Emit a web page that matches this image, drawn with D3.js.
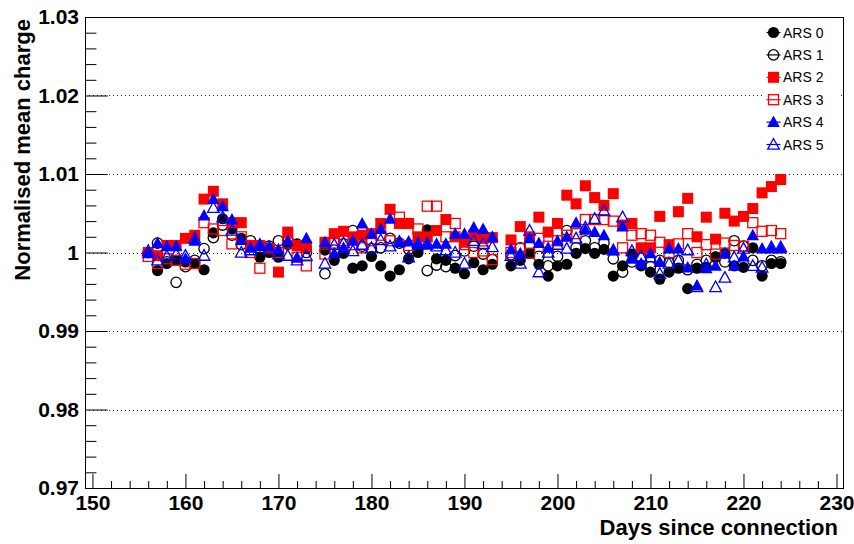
<!DOCTYPE html>
<html>
<head>
<meta charset="utf-8">
<script src="https://cdn.jsdelivr.net/npm/d3@7"></script>
<style>
  html, body { margin: 0; padding: 0; background: #fff; }
  svg { display: block; font-family: "Liberation Sans", Arial, Helvetica, sans-serif; }
</style>
</head>
<body>
<div id="chart"></div>
<script>
// Days with a measurement (no runs on day 174 and 194)
const days = [156,157,158,159,160,161,162,163,164,165,166,167,168,169,170,171,172,173,
  175,176,177,178,179,180,181,182,183,184,185,186,187,188,189,190,191,192,193,
  195,196,197,198,199,200,201,202,203,204,205,206,207,208,209,210,211,212,213,214,215,216,217,218,219,220,221,222,223,224];

const ars0 = [1.0000,0.9977,0.9986,0.9990,0.9988,0.9986,0.9978,1.0025,1.0043,1.0030,1.0018,1.0008,0.9994,1.0000,0.9994,1.0010,1.0011,1.0005,
  1.0003,0.9990,0.9999,0.9980,0.9983,0.9995,0.9983,0.9970,0.9978,0.9992,1.0000,1.0029,0.9992,0.9990,0.9980,0.9973,0.9987,0.9978,0.9985,
  0.9983,0.9990,0.9999,0.9985,0.9970,0.9983,0.9985,0.9999,1.0005,0.9999,1.0004,0.9970,0.9983,0.9998,0.9983,0.9975,0.9966,0.9975,0.9980,0.9954,0.9980,0.9981,0.9994,0.9999,0.9983,0.9981,1.0006,0.9970,0.9986,0.9986];

const ars1 = [1.0000,1.0012,0.9988,0.9962,0.9982,0.9990,1.0005,1.0019,1.0035,1.0022,1.0010,1.0015,1.0005,1.0008,1.0015,1.0016,1.0010,1.0000,
  0.9973,1.0003,1.0011,1.0028,1.0008,1.0005,1.0006,1.0018,1.0012,1.0004,1.0005,0.9977,0.9984,0.9982,0.9996,1.0002,1.0008,0.9998,0.9991,
  0.9997,1.0006,1.0008,0.9995,0.9983,0.9995,1.0028,1.0006,1.0015,1.0006,1.0012,0.9992,0.9975,0.9988,0.9993,0.9982,0.9990,0.9987,0.9990,0.9978,0.9985,0.9990,0.9994,0.9988,1.0015,1.0008,0.9990,0.9983,0.9990,0.9988];

const ars2 = [1.0000,0.9996,1.0009,1.0009,1.0018,1.0022,1.0068,1.0078,1.0062,1.0038,1.0038,1.0009,1.0009,1.0005,0.9975,1.0026,1.0009,1.0007,
  1.0013,1.0024,1.0027,1.0020,1.0022,1.0024,1.0037,1.0055,1.0037,1.0037,1.0020,1.0020,1.0028,1.0042,1.0020,1.0013,1.0022,1.0018,1.0019,
  1.0016,1.0033,1.0020,1.0045,1.0026,1.0037,1.0073,1.0062,1.0085,1.0070,1.0060,1.0075,1.0035,1.0037,1.0006,1.0006,1.0046,1.0010,1.0052,1.0069,1.0020,1.0045,1.0017,1.0050,1.0040,1.0046,1.0056,1.0076,1.0084,1.0093];

const ars3 = [0.9995,0.9986,0.9992,0.9990,0.9985,0.9986,1.0038,1.0030,1.0028,1.0011,1.0020,1.0000,0.9980,1.0005,1.0000,1.0012,0.9994,0.9983,
  0.9998,1.0012,1.0015,1.0010,1.0006,1.0015,1.0022,1.0015,1.0045,1.0009,1.0030,1.0059,1.0059,1.0020,1.0037,1.0010,1.0000,1.0002,0.9991,
  1.0000,1.0005,0.9999,1.0018,1.0008,1.0015,1.0022,1.0024,1.0042,1.0042,1.0042,1.0040,1.0006,1.0022,1.0024,1.0022,1.0013,1.0000,1.0011,1.0024,1.0000,1.0010,0.9998,1.0012,1.0009,1.0008,1.0038,1.0027,1.0028,1.0024];

const ars4 = [0.9999,1.0012,1.0008,1.0008,0.9992,1.0015,1.0047,1.0068,1.0059,1.0042,1.0016,1.0006,1.0008,1.0008,1.0004,1.0015,0.9994,1.0018,
  1.0013,0.9999,1.0006,1.0015,1.0037,1.0024,1.0030,1.0043,1.0013,1.0014,1.0010,1.0010,1.0011,1.0011,1.0024,1.0024,1.0032,1.0030,1.0020,
  1.0004,0.9999,1.0018,1.0012,1.0006,1.0015,1.0020,1.0038,1.0029,1.0026,1.0022,1.0003,1.0033,0.9992,0.9986,0.9999,0.9988,1.0005,1.0005,0.9981,0.9958,0.9980,0.9983,0.9999,0.9983,0.9995,1.0022,1.0005,1.0005,1.0005];

const ars5 = [1.0002,0.9990,0.9995,0.9998,0.9996,1.0018,0.9996,1.0057,1.0045,1.0028,1.0000,1.0003,1.0010,1.0005,0.9998,0.9996,0.9990,0.9996,
  0.9986,1.0010,1.0012,1.0002,1.0010,1.0006,1.0016,1.0008,1.0014,0.9994,1.0012,1.0012,1.0008,1.0003,1.0000,0.9986,1.0015,1.0011,1.0007,
  0.9996,0.9986,1.0028,0.9975,1.0000,1.0010,1.0005,1.0018,1.0032,1.0043,1.0053,1.0003,1.0045,1.0002,0.9995,0.9994,0.9973,0.9986,0.9990,1.0003,0.9956,0.9985,0.9956,0.9968,0.9994,1.0005,0.9983,0.9981,1.0007,1.0007];

const seriesNames = ['ARS 0', 'ARS 1', 'ARS 2', 'ARS 3', 'ARS 4', 'ARS 5'];
const seriesValues = [ars0, ars1, ars2, ars3, ars4, ars5];

const xMajorTicks = [150, 160, 170, 180, 190, 200, 210, 220, 230];
const yMajorTicks = [0.97, 0.98, 0.99, 1.00, 1.01, 1.02, 1.03];
const yGridTicks = [0.98, 0.99, 1.00, 1.01, 1.02];

// marker style per series (ROOT markers 20, 24, 21, 25, 22, 26)
const markerStyles = [
    { shape: 'circle', color: '#000000', filled: true },
    { shape: 'circle', color: '#000000', filled: false },
    { shape: 'square', color: '#ff0000', filled: true },
    { shape: 'square', color: '#ff0000', filled: false },
    { shape: 'triangle', color: '#0000ff', filled: true },
    { shape: 'triangle', color: '#0000ff', filled: false }
];

const width = 854;
const height = 544;
const frame = { left: 85, right: 843, top: 17, bottom: 488 };

const svg = d3.select('#chart')
    .append('svg')
    .attr('width', width)
    .attr('height', height)
    .style('background', '#fff');

const x = d3.scaleLinear().domain([149.2, 230.7]).range([frame.left, frame.right]);
const y = d3.scaleLinear().domain([0.97, 1.03]).range([frame.bottom, frame.top]);

// dotted horizontal grid
svg.append('g')
    .attr('class', 'grid')
    .selectAll('line')
    .data(yGridTicks)
    .enter()
    .append('line')
    .attr('x1', frame.left)
    .attr('x2', frame.right)
    .attr('y1', d => Math.round(y(d)) + 0.5)
    .attr('y2', d => Math.round(y(d)) + 0.5)
    .attr('stroke', '#222')
    .attr('stroke-width', 1)
    .attr('stroke-dasharray', '1,3');

// axes (ticks point inward like ROOT)
const fontLabel = '21px';
const xMinor = d3.range(150, 231, 2).filter(d => d % 10 !== 0);
const yMinor = d3.range(0, 31).map(i => +(0.97 + i * 0.002).toFixed(3)).filter(d => Math.round(d * 1000) % 10 !== 0);

svg.append('g')
    .attr('transform', `translate(0,${frame.bottom})`)
    .call(d3.axisBottom(x).tickValues(xMinor).tickSize(-7).tickFormat(''))
    .call(g => g.select('.domain').remove());

svg.append('g')
    .attr('class', 'x-axis')
    .attr('transform', `translate(0,${frame.bottom})`)
    .call(d3.axisBottom(x).tickValues(xMajorTicks).tickSize(-14).tickPadding(7).tickFormat(d3.format('d')))
    .call(g => g.select('.domain').remove())
    .call(g => g.selectAll('text')
        .style('font-size', fontLabel)
        .style('font-weight', 'bold')
        .attr('fill', '#000'));

svg.append('g')
    .attr('transform', `translate(${frame.left},0)`)
    .call(d3.axisLeft(y).tickValues(yMinor).tickSize(-11.4).tickFormat(''))
    .call(g => g.select('.domain').remove());

svg.append('g')
    .attr('class', 'y-axis')
    .attr('transform', `translate(${frame.left},0)`)
    .call(d3.axisLeft(y).tickValues(yMajorTicks).tickSize(-22.7).tickPadding(6).tickFormat(d => String(+d.toFixed(2))))
    .call(g => g.select('.domain').remove())
    .call(g => g.selectAll('text')
        .style('font-size', fontLabel)
        .style('font-weight', 'bold')
        .attr('fill', '#000'));

svg.selectAll('.tick line').attr('stroke', '#000');

// frame
svg.append('rect')
    .attr('x', frame.left + 0.5)
    .attr('y', frame.top + 0.5)
    .attr('width', frame.right - frame.left)
    .attr('height', frame.bottom - frame.top)
    .attr('fill', 'none')
    .attr('stroke', '#000')
    .attr('stroke-width', 1);

// axis titles
svg.append('text')
    .attr('x', 838)
    .attr('y', 535)
    .attr('text-anchor', 'end')
    .style('font-size', '22px')
    .style('font-weight', 'bold')
    .text('Days since connection');

svg.append('text')
    .attr('transform', `translate(30,${frame.top + 2}) rotate(-90)`)
    .attr('text-anchor', 'end')
    .style('font-size', '22px')
    .style('font-weight', 'bold')
    .text('Normalised mean charge');

function drawMarker(sel, style) {
    const fill = style.filled ? style.color : 'none';
    const stroke = style.color;
    const sw = style.filled ? 0 : 1.3;
    if (style.shape === 'circle') {
        sel.append('circle')
            .attr('r', style.filled ? 5.6 : 5.2)
            .attr('fill', fill).attr('stroke', stroke).attr('stroke-width', sw);
    } else if (style.shape === 'square') {
        const s = style.filled ? 11 : 10;
        sel.append('rect')
            .attr('x', -s / 2).attr('y', -s / 2)
            .attr('width', s).attr('height', s)
            .attr('fill', fill).attr('stroke', stroke).attr('stroke-width', sw);
    } else {
        sel.append('path')
            .attr('d', style.filled ? 'M0,-6.5 L6.3,5 L-6.3,5 Z' : 'M0,-6 L5.8,4.6 L-5.8,4.6 Z')
            .attr('fill', fill).attr('stroke', stroke).attr('stroke-width', sw);
    }
}

// data points, drawn in series order
seriesValues.forEach((vals, i) => {
    const pts = days.map((d, j) => ({ day: d, v: vals[j] })).filter(p => p.v != null);
    const g = svg.append('g').attr('class', 'series-' + i);
    g.selectAll('g')
        .data(pts)
        .enter()
        .append('g')
        .attr('transform', p => `translate(${x(p.day)},${y(p.v)})`)
        .each(function() { drawMarker(d3.select(this), markerStyles[i]); });
});

// legend
const legend = svg.append('g').attr('class', 'legend');
legend.append('rect')
    .attr('x', 763)
    .attr('y', frame.top + 2)
    .attr('width', 78)
    .attr('height', 140)
    .attr('fill', '#fff');

seriesNames.forEach((name, i) => {
    const ly = 32.5 + i * 22.4;
    const item = legend.append('g').attr('transform', `translate(773.5,${ly})`);
    item.append('line')
        .attr('x1', -7).attr('x2', 7)
        .attr('stroke', markerStyles[i].color)
        .attr('stroke-width', 1.2);
    drawMarker(item, markerStyles[i]);
    legend.append('text')
        .attr('x', 783)
        .attr('y', ly + 5)
        .style('font-size', '14px')
        .text(name);
});
</script>
</body>
</html>
